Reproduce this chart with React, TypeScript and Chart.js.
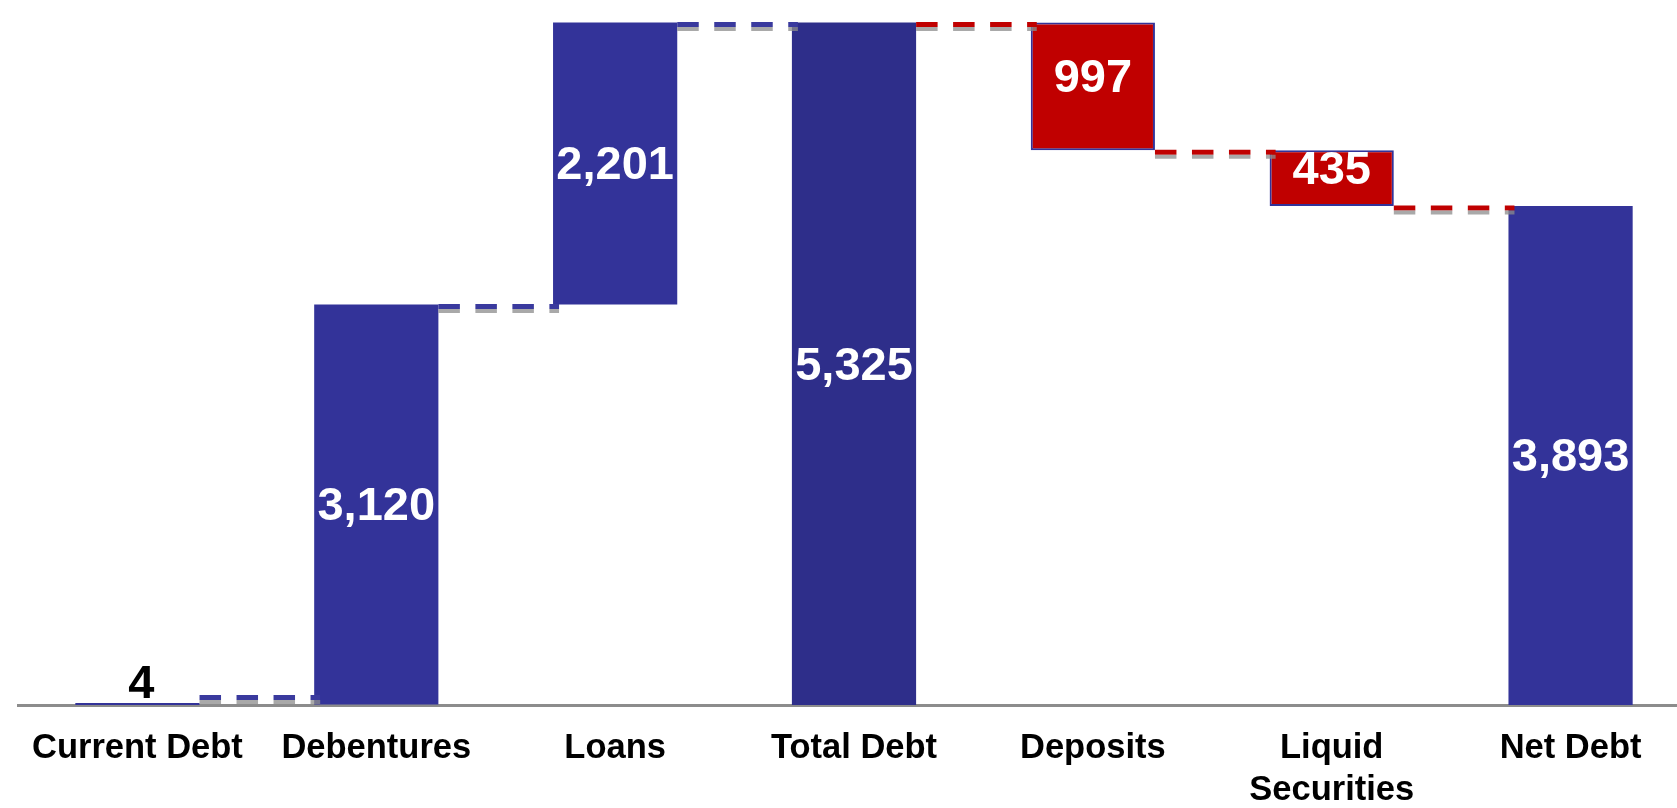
import React, { useEffect, useRef } from 'react';
import { Chart, registerables } from 'chart.js';

Chart.register(...registerables);

const categories: (string | string[])[] = [
  'Current Debt',
  'Debentures',
  'Loans',
  'Total Debt',
  'Deposits',
  ['Liquid', 'Securities'],
  'Net Debt',
];
const values: number[] = [4, 3120, 2201, 5325, -997, -435, 3893];
const isTotal: boolean[] = [true, false, false, true, false, false, true];
const valueLabels: string[] = ['4', '3,120', '2,201', '5,325', '997', '435', '3,893'];
const yMax = 5500;

// floating ranges built from the values
const ranges: [number, number][] = [];
(() => {
  let running = 0;
  values.forEach((v, i) => {
    if (isTotal[i]) {
      ranges.push([0, v]);
      running = v;
    } else {
      ranges.push([running, running + v]);
      running += v;
    }
  });
})();

const BLUE = '#333399';
const BLUE_DARK = '#2e2e8a';
const RED = '#c00000';
const FONT = '"Liberation Sans", Arial, Helvetica, sans-serif';

const waterfallPlugin = {
  id: 'waterfallDecor',
  afterDatasetsDraw(chart: any) {
    const ctx = chart.ctx as CanvasRenderingContext2D;
    const meta = chart.getDatasetMeta(0);
    const y = chart.scales.y;
    const axisY = chart.chartArea.bottom;
    ctx.save();
    // connectors
    for (let i = 0; i < values.length - 1; i++) {
      const a = meta.data[i] as any;
      const b = meta.data[i + 1] as any;
      const x0 = a.x + a.width / 2;
      const x1 = b.x - b.width / 2 + 6;
      let level = y.getPixelForValue(ranges[i][1]);
      const overflow = level + 8.5 - (axisY - 1);
      if (overflow > 0) level -= overflow;
      const red = values[i] < 0 || values[i + 1] < 0;
      ctx.setLineDash([21.5, 15.5]);
      ctx.lineDashOffset = 0;
      ctx.lineWidth = 5;
      ctx.strokeStyle = red ? RED : '#3a3a9e';
      ctx.beginPath();
      ctx.moveTo(x0, level + 2);
      ctx.lineTo(x1, level + 2);
      ctx.stroke();
      ctx.lineWidth = 4;
      ctx.strokeStyle = 'rgba(140,140,140,0.75)';
      ctx.beginPath();
      ctx.moveTo(x0, level + 6.5);
      ctx.lineTo(x1, level + 6.5);
      ctx.stroke();
    }
    ctx.setLineDash([]);
    // value labels
    ctx.font = `bold 47px ${FONT}`;
    ctx.textAlign = 'center';
    ctx.textBaseline = 'middle';
    meta.data.forEach((bar: any, i: number) => {
      const top = Math.min(bar.y, bar.base);
      const bottom = Math.max(bar.y, bar.base);
      const h = bottom - top;
      if (h < 40) {
        ctx.fillStyle = '#000';
        ctx.fillText(valueLabels[i], bar.x + 4, top - 18);
      } else {
        ctx.fillStyle = '#fff';
        ctx.fillText(valueLabels[i], bar.x, (top + bottom) / 2 + 3 - (values[i] < 0 ? 10 : 0));
      }
    });
    ctx.restore();
  },
};

export default function App() {
  const ref = useRef<HTMLCanvasElement | null>(null);

  useEffect(() => {
    if (!ref.current) return;
    const chart = new Chart(ref.current, {
      type: 'bar',
      data: {
        labels: categories as any,
        datasets: [
          {
            data: ranges as any,
            backgroundColor: values.map((v, i) =>
              v < 0 ? RED : isTotal[i] && i === 3 ? BLUE_DARK : BLUE
            ),
            borderColor: BLUE,
            borderWidth: values.map((v) => (v < 0 ? 2 : 0)),
            borderSkipped: false,
            barPercentage: 0.52,
            categoryPercentage: 1,
            minBarLength: 2,
          },
        ],
      },
      options: {
        animation: false,
        responsive: false,
        maintainAspectRatio: false,
        layout: { padding: { left: 18, right: 0, top: 0, bottom: 0 } },
        plugins: {
          legend: { display: false },
          tooltip: { enabled: false },
        },
        scales: {
          x: {
            grid: { display: false, drawTicks: false },
            border: { display: true, color: '#8c8c8c', width: 3 },
            ticks: {
              color: '#000',
              font: { family: FONT, size: 34.5, weight: 'bold', lineHeight: 1.2 },
              padding: 23,
              maxRotation: 0,
              autoSkip: false,
            },
            afterFit: (s: any) => {
              s.height = 103;
            },
          },
          y: {
            display: false,
            min: 0,
            max: yMax,
          },
        },
      },
      plugins: [waterfallPlugin],
    });
    return () => chart.destroy();
  }, []);

  return (
    <div
      style={{
        position: 'fixed',
        left: 0,
        top: 0,
        width: 1677,
        height: 808,
        overflow: 'hidden',
        background: '#fff',
      }}
    >
      <canvas ref={ref} width={1690} height={808} style={{ display: 'block' }} />
    </div>
  );
}
